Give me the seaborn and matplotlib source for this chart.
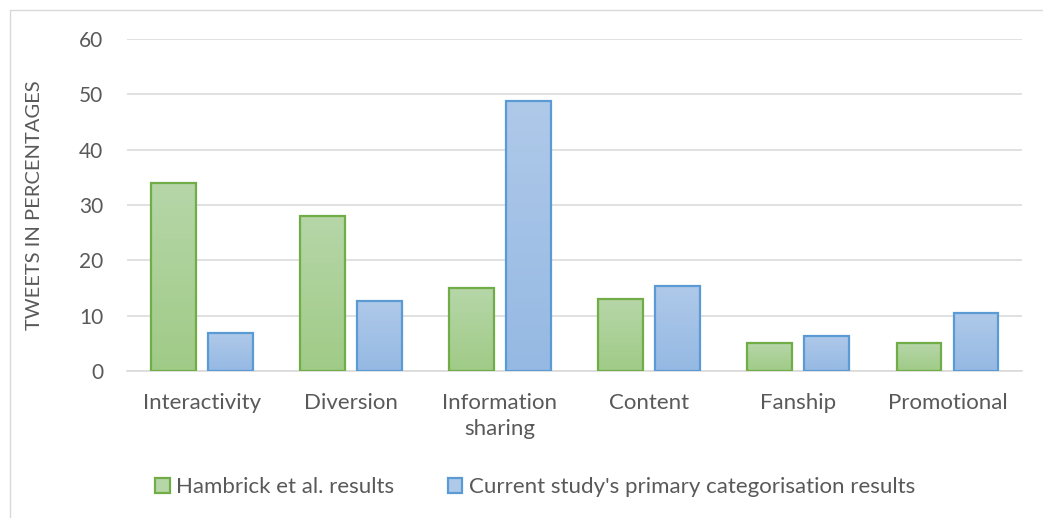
import numpy as np
import pandas as pd
import matplotlib
matplotlib.use("Agg")
import matplotlib.pyplot as plt
from matplotlib.colors import LinearSegmentedColormap
from matplotlib.patches import Patch
from matplotlib.lines import Line2D
import seaborn as sns

categories = ["Interactivity", "Diversion", "Information\nsharing", "Content", "Fanship", "Promotional"]
hambrick = [34, 28, 15, 13, 5, 5]
current_study = [6.8, 12.7, 48.8, 15.4, 6.4, 10.4]
series_names = ["Hambrick et al. results", "Current study's primary categorisation results"]
y_ticks = [0, 10, 20, 30, 40, 50, 60]

df = pd.DataFrame({
    "category": categories * 2,
    "value": hambrick + current_study,
    "series": [series_names[0]] * len(categories) + [series_names[1]] * len(categories),
})

sns.set_theme(style="white")
plt.rcParams["font.family"] = ["Lato", "DejaVu Sans"]

text_color = "#595959"
grid_color = "#d9d9d9"
edge_colors = ["#70ad47", "#5b9bd5"]
grad_colors = [("#a0cb87", "#b6d6a8"), ("#95b9e3", "#afc9e9")]  # (bottom, top)

fig = plt.figure(figsize=(10.43, 5.18), dpi=100)
ax = fig.add_axes([0.1218, 0.2838, 0.98 - 0.1218, 0.9247 - 0.2838])

sns.barplot(data=df, x="category", y="value", hue="series", hue_order=series_names,
            order=categories, palette=[c[1] for c in grad_colors], width=0.764, gap=0.214,
            legend=False, ax=ax, saturation=1)

# vertical gradient fill for every bar, clipped to its rectangle
for container, (c_bot, c_top), ec in zip(ax.containers, grad_colors, edge_colors):
    cmap = LinearSegmentedColormap.from_list("g", [c_bot, c_top])
    for bar in container:
        x0, w, h = bar.get_x(), bar.get_width(), bar.get_height()
        grad = np.linspace(0, 1, 256).reshape(-1, 1)
        im = ax.imshow(grad, extent=[x0, x0 + w, 0, h], origin="lower", aspect="auto",
                       cmap=cmap, zorder=2, interpolation="bilinear")
        im.set_clip_path(bar)
        bar.set_facecolor("none")
        bar.set_edgecolor(ec)
        bar.set_linewidth(1.6)
        bar.set_zorder(3)

ax.set_xlim(-0.5, len(categories) - 0.5)
ax.set_ylim(0, 60)
ax.set_yticks(y_ticks)
ax.yaxis.grid(True, color=grid_color, linewidth=1.1)
ax.set_axisbelow(True)
for side in ["top", "right", "left"]:
    ax.spines[side].set_visible(False)
ax.spines["bottom"].set_color(grid_color)
ax.spines["bottom"].set_linewidth(1.1)

ax.tick_params(axis="y", length=0, pad=17, labelsize=15, labelcolor=text_color)
ax.tick_params(axis="x", length=0, pad=16, labelsize=16, labelcolor=text_color)
ax.set_xlabel("")
ax.set_ylabel("TWEETS IN PERCENTAGES", fontsize=14.5, color=text_color)
ax.yaxis.set_label_coords(-0.094, 0.5)
for lbl in ax.get_xticklabels():
    lbl.set_linespacing(1.35)

handles = [Patch(facecolor=c[1], edgecolor=ec, linewidth=1.6, label=n)
           for c, ec, n in zip(grad_colors, edge_colors, series_names)]
fig.legend(handles=handles, loc="center", bbox_to_anchor=(0.513, 0.06), ncol=2,
           frameon=False, fontsize=16, labelcolor=text_color, handlelength=0.65,
           handleheight=0.65, handletextpad=0.3, columnspacing=2.4)

# chart frame edges
fig.add_artist(Line2D([9.5 / 1043, 9.5 / 1043], [0, 1 - 10 / 518], transform=fig.transFigure,
                      color="#d9d9d9", linewidth=1))
fig.add_artist(Line2D([9.5 / 1043, 1], [1 - 10 / 518, 1 - 10 / 518], transform=fig.transFigure,
                      color="#d9d9d9", linewidth=1))

fig.savefig("out.png", dpi=100, facecolor="white")
